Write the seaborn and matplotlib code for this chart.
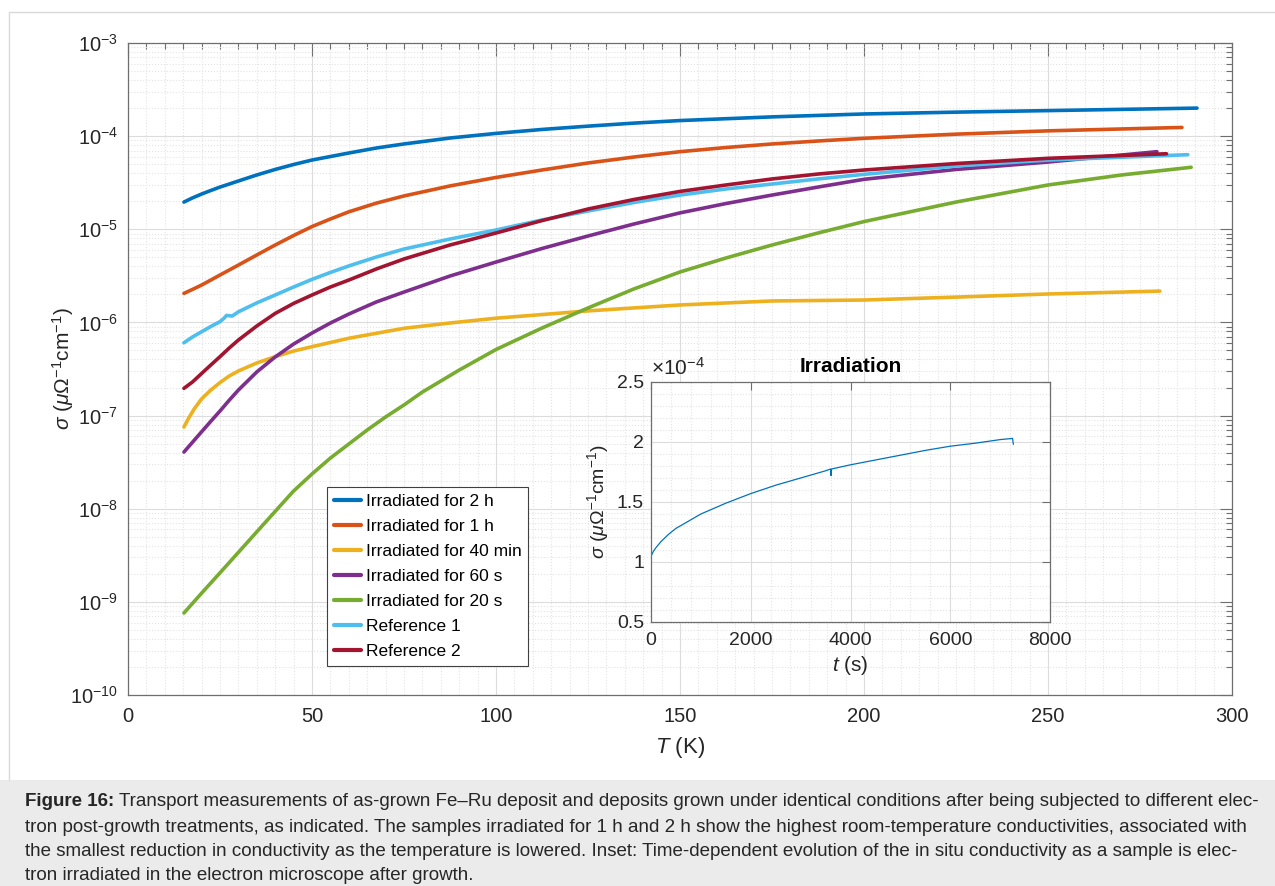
import matplotlib
matplotlib.use('Agg')
import matplotlib.pyplot as plt
import seaborn as sns
import numpy as np
from matplotlib import font_manager
from matplotlib.lines import Line2D
from matplotlib.patches import Rectangle
from matplotlib.ticker import LogLocator, MultipleLocator, FuncFormatter, NullFormatter

# ---- data ----
T_2h = [15.2, 17.5, 20, 22.5, 25, 27.5, 30, 35, 40, 45, 50, 60, 67.5, 75, 87.5, 100,
        112.5, 125, 137.5, 150, 175, 200, 225, 250, 290.5]
sig_2h = [1.96e-5, 2.17e-5, 2.39e-5, 2.61e-5, 2.84e-5, 3.06e-5, 3.30e-5, 3.83e-5, 4.39e-5,
          4.96e-5, 5.54e-5, 6.59e-5, 7.46e-5, 8.24e-5, 9.55e-5, 1.07e-4, 1.18e-4, 1.28e-4,
          1.38e-4, 1.47e-4, 1.61e-4, 1.73e-4, 1.81e-4, 1.88e-4, 2.00e-4]

T_1h = [15.2, 17.5, 20, 22.5, 25, 27.5, 30, 35, 40, 45, 50, 55, 60, 67.5, 75, 87.5, 100,
        112.5, 125, 137.5, 150, 162.5, 175, 187.5, 200, 225, 250, 286.4]
sig_1h = [2.05e-6, 2.26e-6, 2.52e-6, 2.85e-6, 3.23e-6, 3.65e-6, 4.13e-6, 5.30e-6, 6.78e-6,
          8.57e-6, 1.07e-5, 1.29e-5, 1.54e-5, 1.91e-5, 2.28e-5, 2.92e-5, 3.60e-5, 4.33e-5,
          5.15e-5, 5.97e-5, 6.81e-5, 7.55e-5, 8.24e-5, 8.87e-5, 9.48e-5, 1.05e-4, 1.14e-4,
          1.24e-4]

T_40m = [15.2, 16.5, 18, 20, 22.5, 25, 27.5, 30, 35, 40, 45, 50, 60, 75, 87.5, 100, 125,
         150, 175, 200, 225, 250, 280.4]
sig_40m = [7.53e-8, 9.41e-8, 1.18e-7, 1.51e-7, 1.88e-7, 2.26e-7, 2.66e-7, 3.01e-7, 3.67e-7,
           4.29e-7, 4.93e-7, 5.49e-7, 6.76e-7, 8.65e-7, 9.86e-7, 1.11e-6, 1.33e-6, 1.54e-6,
           1.70e-6, 1.74e-6, 1.87e-6, 2.02e-6, 2.17e-6]

T_60s = [15.2, 17.5, 20, 22.5, 25, 27.5, 30, 35, 40, 45, 50, 55, 60, 67.5, 75, 87.5, 100,
         112.5, 125, 137.5, 150, 162.5, 175, 187.5, 200, 225, 250, 279.6]
sig_60s = [4.06e-8, 5.16e-8, 6.70e-8, 8.68e-8, 1.12e-7, 1.46e-7, 1.88e-7, 2.94e-7, 4.26e-7,
           5.86e-7, 7.69e-7, 9.86e-7, 1.23e-6, 1.66e-6, 2.12e-6, 3.15e-6, 4.45e-6, 6.22e-6,
           8.47e-6, 1.14e-5, 1.50e-5, 1.89e-5, 2.33e-5, 2.84e-5, 3.44e-5, 4.39e-5, 5.27e-5,
           6.81e-5]

T_20s = [15.2, 20, 25, 30, 35, 40, 45, 50, 55, 60, 65, 70, 75, 80, 90, 100, 112.5, 125,
         137.5, 150, 162.5, 175, 187.5, 200, 225, 250, 270, 288.9]
sig_20s = [7.59e-10, 1.24e-9, 2.05e-9, 3.40e-9, 5.65e-9, 9.37e-9, 1.55e-8, 2.36e-8, 3.50e-8,
           4.95e-8, 7.00e-8, 9.66e-8, 1.30e-7, 1.79e-7, 3.08e-7, 5.12e-7, 8.71e-7, 1.43e-6,
           2.29e-6, 3.48e-6, 4.92e-6, 6.78e-6, 9.12e-6, 1.21e-5, 1.96e-5, 2.99e-5, 3.83e-5,
           4.63e-5]

T_ref1 = [15.2, 17.5, 20, 22.5, 25, 26, 26.8, 28.3, 30, 35, 40, 45, 50, 55, 60, 67.5, 75,
          87.5, 100, 112.5, 125, 137.5, 150, 162.5, 175, 187.5, 200, 225, 250, 288]
sig_ref1 = [6.05e-7, 6.97e-7, 7.94e-7, 9.04e-7, 1.02e-6, 1.10e-6, 1.19e-6, 1.17e-6, 1.30e-6,
            1.62e-6, 1.97e-6, 2.40e-6, 2.90e-6, 3.44e-6, 4.04e-6, 5.04e-6, 6.14e-6, 7.86e-6,
            9.82e-6, 1.26e-5, 1.57e-5, 1.94e-5, 2.33e-5, 2.71e-5, 3.06e-5, 3.47e-5, 3.89e-5,
            4.78e-5, 5.54e-5, 6.32e-5]

T_ref2 = [15.2, 17.5, 20, 22.5, 25, 27.5, 30, 35, 40, 45, 50, 55, 60, 67.5, 75, 87.5, 100,
          112.5, 125, 137.5, 150, 162.5, 175, 187.5, 200, 225, 250, 282.2]
sig_ref2 = [1.96e-7, 2.29e-7, 2.83e-7, 3.49e-7, 4.29e-7, 5.31e-7, 6.47e-7, 9.16e-7, 1.25e-6,
            1.60e-6, 1.97e-6, 2.40e-6, 2.85e-6, 3.75e-6, 4.80e-6, 6.78e-6, 9.12e-6, 1.24e-5,
            1.65e-5, 2.09e-5, 2.55e-5, 2.99e-5, 3.47e-5, 3.92e-5, 4.33e-5, 5.08e-5, 5.78e-5,
            6.47e-5]

labels = ['Irradiated for 2 h', 'Irradiated for 1 h', 'Irradiated for 40 min',
          'Irradiated for 60 s', 'Irradiated for 20 s', 'Reference 1', 'Reference 2']
colors = ['#0072BD', '#D95319', '#EDB120', '#7E2F8E', '#77AC30', '#4DBEEE', '#A2142F']

# inset: in situ conductivity during irradiation
t_irr = [0, 1, 50, 100, 200, 350, 500, 750, 1000, 1500, 2000, 2500, 3000, 3500, 3600,
         3610, 3620, 4000, 4500, 5000, 5500, 6000, 6500, 7000, 7250, 7265]
sig_irr = [0.97e-4, 1.05e-4, 1.09e-4, 1.12e-4, 1.17e-4, 1.23e-4, 1.28e-4, 1.34e-4, 1.40e-4,
           1.49e-4, 1.57e-4, 1.64e-4, 1.70e-4, 1.76e-4, 1.775e-4, 1.72e-4, 1.775e-4,
           1.81e-4, 1.85e-4, 1.89e-4, 1.93e-4, 1.965e-4, 1.99e-4, 2.02e-4, 2.03e-4, 1.98e-4]

caption_bold = 'Figure 16:'
caption_lines = [
    'Transport measurements of as-grown Fe\u2013Ru deposit and deposits grown under identical conditions after being subjected to different elec-',
    'tron post-growth treatments, as indicated. The samples irradiated for 1 h and 2 h show the highest room-temperature conductivities, associated with',
    'the smallest reduction in conductivity as the temperature is lowered. Inset: Time-dependent evolution of the in situ conductivity as a sample is elec-',
    'tron irradiated in the electron microscope after growth.',
]

# ---- style ----
sns.set_theme(style='white')
plt.rcParams['font.family'] = ['Liberation Sans', 'DejaVu Sans']
plt.rcParams['mathtext.fontset'] = 'custom'
plt.rcParams['mathtext.rm'] = 'Liberation Sans'
plt.rcParams['mathtext.it'] = 'Liberation Sans:italic'
plt.rcParams['mathtext.bf'] = 'Liberation Sans:bold'

W, H = 1275, 886
fig = plt.figure(figsize=(W / 100, H / 100), dpi=100)
fig.patch.set_facecolor('white')

spine_c = '#6e6e6e'
text_c = '#262626'


def style_axes(a):
    for s in a.spines.values():
        s.set_color(spine_c)
        s.set_linewidth(0.9)
    a.tick_params(which='both', direction='in', top=True, right=True, colors=spine_c,
                  labelcolor=text_c, width=0.8)
    a.grid(True, which='major', color='#dcdcdc', lw=0.8, ls='-')
    a.grid(True, which='minor', color='#e3e3e3', lw=0.8, ls=':')


# ---- main axes ----
ax = fig.add_axes([128 / W, 1 - 695 / H, 1104 / W, 652 / H])
series = [(T_2h, sig_2h), (T_1h, sig_1h), (T_40m, sig_40m), (T_60s, sig_60s),
          (T_20s, sig_20s), (T_ref1, sig_ref1), (T_ref2, sig_ref2)]
for (tt, ss), lab, c in zip(series, labels, colors):
    sns.lineplot(x=tt, y=ss, color=c, lw=2.6, ax=ax, sort=False, estimator=None, label=lab)

ax.set_yscale('log')
ax.set_xlim(0, 300)
ax.set_ylim(1e-10, 1e-3)
ax.xaxis.set_major_locator(MultipleLocator(50))
ax.xaxis.set_minor_locator(MultipleLocator(5))
ax.yaxis.set_major_locator(LogLocator(base=10, numticks=20))
ax.yaxis.set_minor_locator(LogLocator(base=10, subs=np.arange(2, 10), numticks=20))
ax.yaxis.set_minor_formatter(NullFormatter())
style_axes(ax)
ax.tick_params(which='major', length=9, labelsize=14.5)
ax.tick_params(which='minor', length=4.5)
ax.tick_params(axis='x', pad=9)
ax.tick_params(axis='y', pad=7)
ax.set_xlabel('$T$ (K)', fontsize=16, color=text_c, labelpad=6)
ax.set_ylabel(r'$\sigma$ ($\mu\Omega^{-1}$cm$^{-1}$)', fontsize=15, color=text_c, labelpad=-4)

handles = [Line2D([], [], color=c, lw=3) for c in colors]
leg = ax.legend(handles, labels, loc='upper left', bbox_to_anchor=((327 - 128) / 1104, (695 - 487) / 652),
                fontsize=12.5, frameon=True, fancybox=False, framealpha=1, edgecolor='#404040',
                handlelength=1.6, handletextpad=0.25, labelspacing=0.57, borderpad=0.38,
                borderaxespad=0)
leg.get_frame().set_linewidth(0.8)
for txt in leg.get_texts():
    txt.set_color('black')

# ---- inset ----
ax2 = fig.add_axes([651 / W, 1 - 622 / H, 399 / W, 240 / H])
ax2.set_facecolor('white')
sns.lineplot(x=t_irr, y=sig_irr, color='#0072BD', lw=0.9, ax=ax2, sort=False, estimator=None)
ax2.set_xlim(0, 8000)
ax2.set_ylim(0.5e-4, 2.5e-4)
ax2.xaxis.set_major_locator(MultipleLocator(2000))
ax2.xaxis.set_minor_locator(MultipleLocator(400))
ax2.yaxis.set_major_locator(MultipleLocator(0.5e-4))
ax2.yaxis.set_minor_locator(MultipleLocator(0.1e-4))
ax2.yaxis.set_major_formatter(FuncFormatter(lambda v, p: f'{v / 1e-4:g}'))
style_axes(ax2)
ax2.tick_params(which='major', length=6, labelsize=14)
ax2.tick_params(which='minor', length=0)
ax2.tick_params(axis='x', pad=7)
ax2.tick_params(axis='y', pad=5)
ax2.set_xlabel('$t$ (s)', fontsize=15, color=text_c, labelpad=4)
ax2.set_ylabel(r'$\sigma$ ($\mu\Omega^{-1}$cm$^{-1}$)', fontsize=14, color=text_c, labelpad=4)
ax2.set_title('Irradiation', fontsize=15, fontweight='bold', color='black', pad=7)
ax2.text(0.0, 1.015, r'$\times$10$^{-4}$', transform=ax2.transAxes, fontsize=15,
         color=text_c, ha='left', va='bottom')

# ---- panel border and caption ----
fig.add_artist(Line2D([9 / W, 9 / W], [1 - 780 / H, 1 - 12 / H], transform=fig.transFigure,
                      color='#d9d9d9', lw=1))
fig.add_artist(Line2D([9 / W, 1], [1 - 12 / H, 1 - 12 / H], transform=fig.transFigure,
                      color='#d9d9d9', lw=1))
fig.add_artist(Rectangle((0, 0), 1, (H - 780) / H, transform=fig.transFigure,
                         facecolor='#ebebeb', edgecolor='none', zorder=0))

names = {f.name for f in font_manager.fontManager.ttflist}
cap_font = 'Liberation Sans Narrow' if 'Liberation Sans Narrow' in names else 'Liberation Sans'
renderer = fig.canvas.get_renderer()

# fit first caption line to the width seen in the figure
x0, x1 = 25, 1257
gap = 5
size = 11
t_b = fig.text(x0 / W, 1 - 802 / H, caption_bold, fontsize=size, fontweight='bold',
               family=cap_font, va='center', ha='left')
t_r = fig.text(0, 1 - 802 / H, caption_lines[0], fontsize=size, family=cap_font,
               va='center', ha='left')
wb = t_b.get_window_extent(renderer).width
wr = t_r.get_window_extent(renderer).width
size = size * (x1 - x0 - gap) / (wb + wr)
t_b.set_fontsize(size)
t_r.set_fontsize(size)
wb = t_b.get_window_extent(renderer).width
t_r.set_x((x0 + wb + gap) / W)
for line, yc in zip(caption_lines[1:], [827, 851, 875]):
    fig.text(x0 / W, 1 - yc / H, line, fontsize=size, family=cap_font, va='center', ha='left')

fig.savefig('out.png', dpi=100)
